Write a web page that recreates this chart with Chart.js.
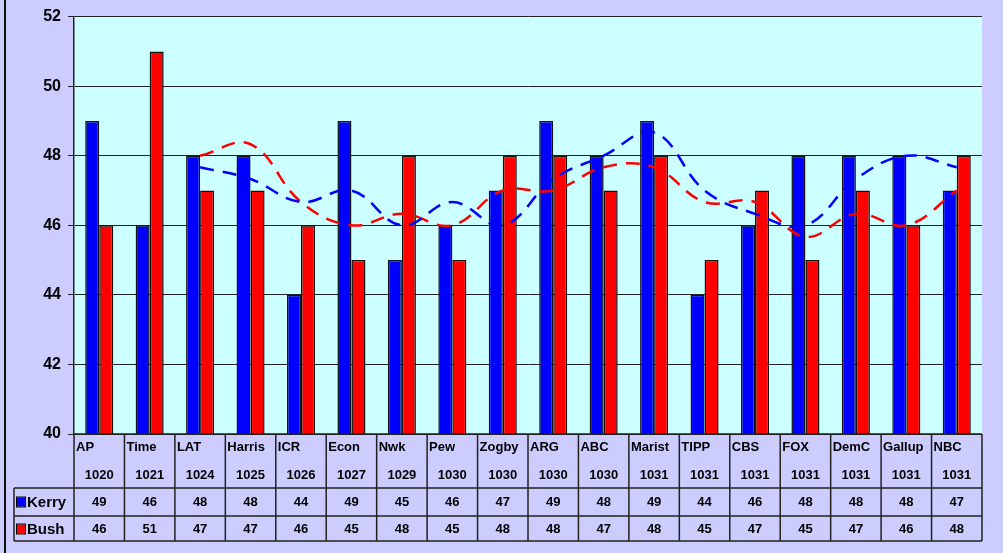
<!DOCTYPE html>
<html>
<head>
<meta charset="utf-8">
<script src="https://cdn.jsdelivr.net/npm/chart.js@4"></script>
<style>
html,body{margin:0;padding:0;background:#CCCCFF;}
#wrap{width:1003px;height:553px;}
</style>
</head>
<body>
<div id="wrap"><canvas id="c" width="1003" height="553"></canvas></div>
<script>
const categories = ['AP','Time','LAT','Harris','ICR','Econ','Nwk','Pew','Zogby','ARG','ABC','Marist','TIPP','CBS','FOX','DemC','Gallup','NBC'];
const dates = ['1020','1021','1024','1025','1026','1027','1029','1030','1030','1030','1030','1031','1031','1031','1031','1031','1031','1031'];
const kerry = [49,46,48,48,44,49,45,46,47,49,48,49,44,46,48,48,48,47];
const bush  = [46,51,47,47,46,45,48,45,48,48,47,48,45,47,45,47,46,48];
// dashed trend lines
const kerryTrend = [null,null,47.67,47.33,46.67,47.0,46.0,46.67,46.0,47.33,48.0,48.67,47.0,46.33,46.0,47.33,48.0,47.67];
const bushTrend  = [null,null,48.0,48.33,46.67,46.0,46.33,46.0,47.0,47.0,47.67,47.67,46.67,46.67,45.67,46.33,46.0,47.0];
const seriesNames = ['Kerry','Bush'];
const yTicks = [40,42,44,46,48,50,52];

const BLUE = '#0000FF', RED = '#FF0000';
const FONT = 'Arial, "Liberation Sans", sans-serif';

const bgPlugin = {
  id: 'bg',
  beforeDraw(chart) {
    const ctx = chart.ctx, a = chart.chartArea;
    ctx.save();
    ctx.fillStyle = '#CCCCFF';
    ctx.fillRect(0, 0, chart.width, chart.height);
    ctx.fillStyle = '#CCFFFF';
    ctx.fillRect(a.left, a.top, a.right - a.left, a.bottom - a.top);
    ctx.fillStyle = '#111';
    ctx.fillRect(4, 0, 2, chart.height);
    ctx.restore();
  }
};

const tablePlugin = {
  id: 'table',
  afterDraw(chart) {
    const ctx = chart.ctx, a = chart.chartArea, x = chart.scales.x;
    const n = categories.length;
    const w = (a.right - a.left) / n;
    const top = a.bottom, r1 = top + 54, r2 = r1 + 28, r3 = r2 + 25;
    const legL = 14;
    ctx.save();
    ctx.strokeStyle = '#222';
    ctx.lineWidth = 1.5;
    ctx.beginPath();
    ctx.moveTo(a.left, top); ctx.lineTo(a.right, top);
    ctx.moveTo(legL, r1); ctx.lineTo(a.right, r1);
    ctx.moveTo(legL, r2); ctx.lineTo(a.right, r2);
    ctx.moveTo(legL, r3); ctx.lineTo(a.right, r3);
    ctx.moveTo(legL, r1); ctx.lineTo(legL, r3);
    for (let i = 0; i <= n; i++) {
      const cx = a.left + i * w;
      ctx.moveTo(cx, top); ctx.lineTo(cx, r3);
    }
    ctx.stroke();

    ctx.fillStyle = '#000';
    ctx.textBaseline = 'middle';
    ctx.font = 'bold 13px ' + FONT;
    for (let i = 0; i < n; i++) {
      const cl = a.left + i * w;
      const cc = x.getPixelForValue(i);
      ctx.textAlign = 'left';
      ctx.fillText(categories[i], cl + 2, top + 13);
      ctx.textAlign = 'center';
      ctx.fillText(dates[i], cc, top + 41);
      ctx.fillText(String(kerry[i]), cc, r1 + 14);
      ctx.fillText(String(bush[i]), cc, r2 + 13);
    }
    const keys = [[BLUE, r1 + 14], [RED, r2 + 13]];
    ctx.font = 'bold 15px ' + FONT;
    ctx.textAlign = 'left';
    keys.forEach((k, j) => {
      ctx.fillStyle = k[0];
      ctx.fillRect(17, k[1] - 4.5, 8, 9);
      ctx.strokeStyle = '#000';
      ctx.lineWidth = 1;
      ctx.strokeRect(16.5, k[1] - 5, 9, 10);
      ctx.fillStyle = '#000';
      ctx.fillText(seriesNames[j], 27, k[1] + 1);
    });
    ctx.restore();
  }
};

new Chart(document.getElementById('c'), {
  data: {
    labels: categories,
    datasets: [
      { type: 'line', label: 'Kerry trend', data: kerryTrend, borderColor: BLUE, borderWidth: 2.5,
        borderDash: [14, 9], pointRadius: 0, tension: 0.4, fill: false, order: 0 },
      { type: 'line', label: 'Bush trend', data: bushTrend, borderColor: RED, borderWidth: 2.5,
        borderDash: [14, 9], pointRadius: 0, tension: 0.4, fill: false, order: 0 },
      { type: 'bar', label: seriesNames[0], data: kerry, backgroundColor: BLUE, borderColor: '#111',
        borderWidth: 1.5, categoryPercentage: 0.556, barPercentage: 1, order: 1 },
      { type: 'bar', label: seriesNames[1], data: bush, backgroundColor: RED, borderColor: '#111',
        borderWidth: 1.5, categoryPercentage: 0.556, barPercentage: 1, order: 1 }
    ]
  },
  options: {
    responsive: false,
    animation: false,
    layout: { padding: { left: 0, top: 14, right: 21, bottom: 119 } },
    plugins: { legend: { display: false }, tooltip: { enabled: false } },
    scales: {
      x: { display: false, offset: true },
      y: {
        min: 40, max: 52,
        afterFit(s) { s.width = 74; },
        afterBuildTicks(s) { s.ticks = yTicks.map(v => ({ value: v })); },
        ticks: { color: '#000', font: { family: FONT, size: 16, weight: 'bold' }, padding: 7 },
        grid: { color: '#222', lineWidth: 1, tickLength: 6, tickColor: '#222' },
        border: { display: true, color: '#222', width: 1.5 }
      }
    }
  },
  plugins: [bgPlugin, tablePlugin]
});
</script>
</body>
</html>
